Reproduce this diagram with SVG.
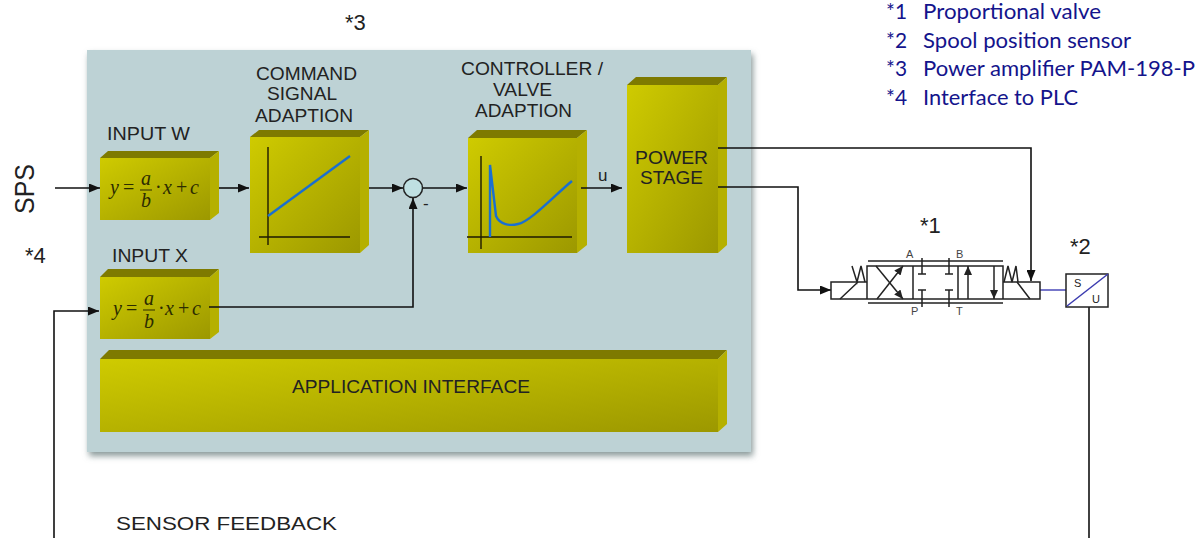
<svg xmlns="http://www.w3.org/2000/svg" width="1199" height="538" viewBox="0 0 1199 538">
<style>
text{font-family:"Liberation Sans",Arial,sans-serif;fill:#222}
.l{font-size:18px}
.n{font-size:22px}
.k{font-family:"Lato","Open Sans",sans-serif;font-size:20.5px;fill:#14148c}
.f{font-family:"Liberation Serif",serif;font-size:20px;font-style:italic;fill:#2c2c00}
.o{font-family:"Liberation Serif",serif;font-size:20px;fill:#2c2c00}
.front{fill:url(#g)}
.top{fill:#7e7a00}
.side{fill:#b5b000}
.w{fill:none;stroke:#111;stroke-width:1.6}
.v{fill:none;stroke:#222;stroke-width:1.5}
.ax{fill:none;stroke:#1e1a00;stroke-width:1.4}
.c{fill:none;stroke:#1a6fd0;stroke-width:2.4}
.t{font-size:11px;fill:#444}
</style>
<defs>
<linearGradient id="g" x1="0" y1="0" x2="1" y2="1"><stop offset="0" stop-color="#cfcb00"/><stop offset="1" stop-color="#9c9800"/></linearGradient>
<filter id="s" x="-3%" y="-3%" width="106%" height="106%"><feGaussianBlur stdDeviation="3"/></filter>
<marker id="m" viewBox="0 0 11 9" refX="11" refY="4.5" markerWidth="11" markerHeight="9" markerUnits="userSpaceOnUse" orient="auto"><path d="M0 0L11 4.5L0 9Z" fill="#111"/></marker>
<marker id="h" viewBox="0 0 9 8" refX="9" refY="4" markerWidth="9" markerHeight="8" markerUnits="userSpaceOnUse" orient="auto"><path d="M0 0L9 4L0 8Z" fill="#222"/></marker>
</defs>
<g id="panel">
<rect x="89" y="54" width="664" height="402" fill="#8a9a9a" filter="url(#s)"/>
<rect x="87" y="50" width="664" height="402" fill="#bdd2d5"/>
</g>
<g id="input-w">
<path class="top" d="M100 158L108 151H219L210 158Z"/><path class="side" d="M210 158L219 151V213L210 220Z"/><rect class="front" x="100" y="158" width="110" height="62"/>
<text class="l" x="107" y="140" textLength="83" lengthAdjust="spacingAndGlyphs">INPUT W</text>
<text class="f" x="110" y="194">y</text><text class="o" x="123" y="194">=</text><text class="f" x="141" y="185">a</text><path d="M140 190H152" stroke="#2c2c00"/><text class="f" x="141" y="207">b</text><text class="o" x="155" y="194">·</text><text class="f" x="163" y="194">x</text><text class="o" x="176" y="194">+</text><text class="f" x="190" y="194">c</text>
</g>
<g id="input-x">
<path class="top" d="M100 277L108 269H219L210 277Z"/><path class="side" d="M210 277L219 269V332L210 339Z"/><rect class="front" x="100" y="277" width="110" height="62"/>
<text class="l" x="112" y="262" textLength="76" lengthAdjust="spacingAndGlyphs">INPUT X</text>
<text class="f" x="113" y="315">y</text><text class="o" x="126" y="315">=</text><text class="f" x="144" y="305">a</text><path d="M143 310H155" stroke="#2c2c00"/><text class="f" x="144" y="328">b</text><text class="o" x="158" y="315">·</text><text class="f" x="165" y="315">x</text><text class="o" x="178" y="315">+</text><text class="f" x="192" y="315">c</text>
</g>
<g id="command">
<path class="top" d="M250 137L259 130H369L360 137Z"/><path class="side" d="M360 137L369 130V245L360 253Z"/><rect class="front" x="250" y="137" width="110" height="116"/>
<text class="l" x="256" y="80" textLength="101" lengthAdjust="spacingAndGlyphs">COMMAND</text><text class="l" x="267" y="100" textLength="70" lengthAdjust="spacingAndGlyphs">SIGNAL</text><text class="l" x="255" y="122" textLength="98" lengthAdjust="spacingAndGlyphs">ADAPTION</text>
<path class="ax" d="M268 147V245M259 237H350"/><path class="c" d="M268 216L350 156"/>
</g>
<g id="controller">
<path class="top" d="M468 138L477 130H587L577 138Z"/><path class="side" d="M577 138L587 130V245L577 253Z"/><rect class="front" x="468" y="138" width="109" height="115"/>
<text class="l" x="461" y="75" textLength="142" lengthAdjust="spacingAndGlyphs">CONTROLLER /</text><text class="l" x="493" y="96" textLength="59" lengthAdjust="spacingAndGlyphs">VALVE</text><text class="l" x="475" y="117" textLength="97" lengthAdjust="spacingAndGlyphs">ADAPTION</text>
<path class="ax" d="M481 156V249M467 237H572"/><path class="c" d="M490 237V165L496 216C500 225 510 226 518 224C530 222 555 195 572 181"/>
</g>
<g id="power">
<path class="top" d="M627 85L636 77H727L718 85Z"/><path class="side" d="M718 85L727 77V245L718 253Z"/><rect class="front" x="627" y="85" width="91" height="168"/>
<text class="l" x="635" y="164" textLength="73" lengthAdjust="spacingAndGlyphs">POWER</text><text class="l" x="640" y="184" textLength="63" lengthAdjust="spacingAndGlyphs">STAGE</text>
</g>
<g id="app">
<path class="top" d="M100 359L109 350H727L718 359Z"/><path class="side" d="M718 359L727 350V424L718 432Z"/><rect class="front" x="100" y="359" width="618" height="73"/>
<text class="l" x="292" y="393" textLength="238" lengthAdjust="spacingAndGlyphs">APPLICATION INTERFACE</text>
</g>
<g id="sum">
<circle cx="413" cy="188" r="9.5" fill="#bfe0e2" stroke="#222" stroke-width="1.5"/>
<text x="423" y="209" font-size="17">-</text>
</g>
<g id="connectors">
<path class="w" marker-end="url(#m)" d="M55 188H100"/>
<path class="w" marker-end="url(#m)" d="M219 188H249"/>
<path class="w" marker-end="url(#m)" d="M369 188H403"/>
<path class="w" marker-end="url(#m)" d="M423 188H467"/>
<path class="w" marker-end="url(#m)" d="M581 188H622"/>
<path class="w" marker-end="url(#m)" d="M209 307H413V198"/>
<path class="w" marker-end="url(#m)" d="M54 538V311H99"/>
<path class="w" marker-end="url(#m)" d="M718 187H798V290H831"/>
<path class="w" marker-end="url(#m)" d="M718 148H1031V281"/>
<path class="w" d="M1089 307V538"/>
<path d="M1040 290H1066" stroke="#4a4ab8" stroke-width="1.5" fill="none"/>
</g>
<g id="valve">
<path class="v" d="M831 282H867V299H831ZM867 266H1003V299H867ZM913 266V299M958 266V299M1003 282H1040V299H1003ZM868 261H1003M868 303H1003"/>
<path class="v" d="M840 299L858 282M852 266L857 282L861 266L865 282"/>
<path class="v" d="M1004 282L1008 266L1012 282L1016 266L1018 282M1017 282L1030 299"/>
<path class="v" marker-end="url(#h)" d="M877 299L903 266"/><path class="v" marker-end="url(#h)" d="M876 266L903 299"/>
<path class="v" d="M922 258V274M918 274H926M949 258V274M945 274H953M922 290V307M918 290H926M949 290V307M945 290H953"/>
<path class="v" marker-end="url(#h)" d="M968 299V266"/><path class="v" marker-end="url(#h)" d="M994 266V299"/>
<text class="t" x="906" y="258">A</text><text class="t" x="956" y="258">B</text><text class="t" x="911" y="315">P</text><text class="t" x="956" y="315">T</text>
<text class="n" x="920" y="233">*1</text>
</g>
<g id="sensor">
<rect x="1066" y="274" width="42" height="33" fill="none" stroke="#222" stroke-width="1.5"/>
<path d="M1067 306L1108 274" stroke="#3c3cb0" stroke-width="1.5" fill="none"/>
<text x="1074" y="287" font-size="11" fill="#333">S</text><text x="1092" y="303" font-size="11" fill="#333">U</text>
<text class="n" x="1070" y="254">*2</text>
</g>
<g id="labels">
<text class="n" x="345" y="30">*3</text>
<text class="n" x="25" y="263">*4</text>
<text font-size="28" textLength="50" lengthAdjust="spacingAndGlyphs" transform="translate(34 214) rotate(-90)">SPS</text>
<text x="116" y="530" font-size="18.5" textLength="221" lengthAdjust="spacingAndGlyphs">SENSOR FEEDBACK</text>
<text x="598" y="181" font-size="17">u</text>
<text class="k" x="886" y="19" textLength="21" lengthAdjust="spacingAndGlyphs">*1</text><text class="k" x="923" y="19" textLength="178" lengthAdjust="spacingAndGlyphs">Proportional valve</text>
<text class="k" x="886" y="48" textLength="21" lengthAdjust="spacingAndGlyphs">*2</text><text class="k" x="923" y="48" textLength="208" lengthAdjust="spacingAndGlyphs">Spool position sensor</text>
<text class="k" x="886" y="76" textLength="21" lengthAdjust="spacingAndGlyphs">*3</text><text class="k" x="923" y="76" textLength="272" lengthAdjust="spacingAndGlyphs">Power amplifier PAM-198-P</text>
<text class="k" x="886" y="105" textLength="21" lengthAdjust="spacingAndGlyphs">*4</text><text class="k" x="923" y="105" textLength="155" lengthAdjust="spacingAndGlyphs">Interface to PLC</text>
</g>
</svg>
